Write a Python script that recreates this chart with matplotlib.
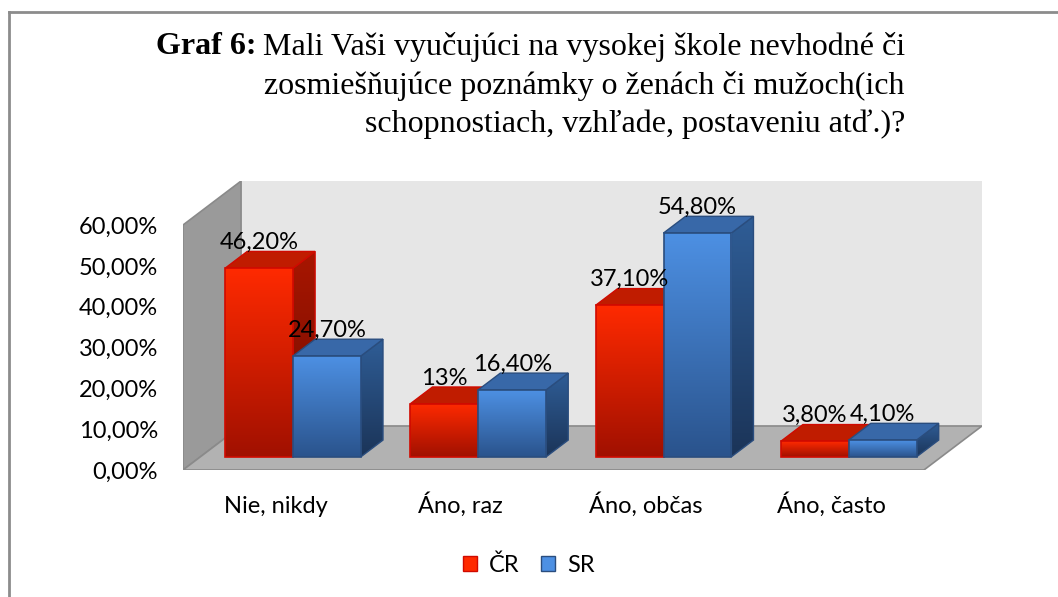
import numpy as np
import matplotlib
matplotlib.use("Agg")
import matplotlib.pyplot as plt
from matplotlib.patches import Polygon, Patch
from matplotlib.colors import LinearSegmentedColormap
from matplotlib.lines import Line2D

# data
categories = ["Nie, nikdy", "Áno, raz", "Áno, občas", "Áno, často"]
cr_values = [46.2, 13.0, 37.1, 3.8]
sr_values = [24.7, 16.4, 54.8, 4.1]
cr_labels = ["46,20%", "13%", "37,10%", "3,80%"]
sr_labels = ["24,70%", "16,40%", "54,80%", "4,10%"]
series_names = ["ČR", "SR"]
yticks = [0, 10, 20, 30, 40, 50, 60]

# fake 3d geometry (depth offsets in data units)
DX, DY = 0.3135, 10.78
Z0, Z1 = 0.3, 0.68
W = 0.3665

tick_font = "Lato"
title_font = "Liberation Serif"
fs = 17

fig = plt.figure(figsize=(10.58, 5.97), dpi=100)
fw, fh = 1058, 597
ax = fig.add_axes([183 / fw, (fh - 470) / fh, (982 - 183) / fw, (470 - 181) / fh])
ax.set_xlim(-0.5, 3.5 + DX)
ax.set_ylim(0, 60 + DY)


def grad_poly(verts, c_top, c_bot, z, clip=None):
    poly = Polygon(verts, closed=True, facecolor="none", edgecolor="none")
    ax.add_patch(poly)
    xs = [v[0] for v in verts]
    ys = [v[1] for v in verts]
    cmap = LinearSegmentedColormap.from_list("g", [c_bot, c_top])
    g = np.linspace(0, 1, 256).reshape(-1, 1)
    im = ax.imshow(g, extent=(min(xs), max(xs), min(ys), max(ys)), origin="lower",
                   cmap=cmap, aspect="auto", zorder=z, interpolation="bilinear")
    im.set_clip_path(clip if clip is not None else poly)
    return im


# walls and floor
left = -0.5
right = 3.5
ax.add_patch(Polygon([(left, 0), (left, 60), (left + DX, 60 + DY), (left + DX, DY)],
                     facecolor="#9a9a9a", edgecolor="#8a8a8a", lw=1.2, zorder=1))
ax.add_patch(Polygon([(left + DX, DY), (left + DX, 60 + DY), (right + DX, 60 + DY), (right + DX, DY)],
                     facecolor="#e6e6e6", edgecolor="none", zorder=0.5))
ax.add_patch(Polygon([(left, 0), (right, 0), (right + DX, DY), (left + DX, DY)],
                     facecolor="#b2b2b2", edgecolor="#8a8a8a", lw=1.2, zorder=1))

styles = [
    # front top, front bottom, side top, side bottom, top face, edge
    ("#ff2a00", "#a01000", "#a81600", "#700c00", "#c01c00", "#d00a00"),
    ("#4d90e3", "#2a538c", "#2f5d96", "#1b3458", "#3868a8", "#2a4d7e"),
]

base = Z0 * DY
ddx = (Z1 - Z0) * DX
ddy = (Z1 - Z0) * DY
zo = 2
for i in range(len(categories)):
    gx = i + Z0 * DX
    for s, (vals, labs) in enumerate([(cr_values, cr_labels), (sr_values, sr_labels)]):
        ft, fb, st, sb, tf, ec = styles[s]
        v = vals[i]
        l = gx - W if s == 0 else gx
        r = l + W
        t = base + v
        # side face
        grad_poly([(r, base), (r + ddx, base + ddy), (r + ddx, t + ddy), (r, t)], st, sb, zo)
        ax.add_patch(Polygon([(r, base), (r + ddx, base + ddy), (r + ddx, t + ddy), (r, t)],
                             facecolor="none", edgecolor=ec, lw=1, zorder=zo + 0.1))
        # top face
        ax.add_patch(Polygon([(l, t), (r, t), (r + ddx, t + ddy), (l + ddx, t + ddy)],
                             facecolor=tf, edgecolor=ec, lw=1, zorder=zo + 0.2))
        # front face
        bar = ax.bar(l, v, width=W, bottom=base, align="edge", facecolor="none",
                     edgecolor=ec, lw=1.2, zorder=zo + 0.4)[0]
        grad_poly([(l, base), (r, base), (r, t), (l, t)], ft, fb, zo + 0.3, clip=bar)
        ax.text(l + W / 2, v + 9.5, labs[i], ha="center", va="center",
                fontsize=fs, family=tick_font, color="black", zorder=10)
        zo += 1

for sp in ax.spines.values():
    sp.set_visible(False)
ax.set_yticks(yticks)
ax.set_yticklabels(["%d,00%%" % t for t in yticks], fontsize=fs, family=tick_font)
ax.set_xticks(range(len(categories)))
ax.set_xticklabels(categories, fontsize=fs, family=tick_font)
ax.tick_params(axis="y", length=0, pad=18)
ax.tick_params(axis="x", length=0, pad=31)
for lbl in ax.get_xticklabels():
    lbl.set_va("baseline")

# legend
handles = [Patch(facecolor=styles[k][0], edgecolor=styles[k][5], label=series_names[k]) for k in range(2)]
fig.legend(handles=handles, loc="center", bbox_to_anchor=(0.5, 1 - 565 / fh), ncol=2,
           frameon=False, prop={"family": tick_font, "size": fs},
           handlelength=0.6, handleheight=0.6, handletextpad=0.5, columnspacing=0.9)

# title
lines = ["Mali Vaši vyučujúci na vysokej škole nevhodné či",
         "zosmiešňujúce poznámky o ženách či mužoch(ich",
         "schopnostiach, vzhľade, postaveniu atď.)?"]
ys = [47, 86, 124]
tx = 905 / fw
first = None
for k, (ln, y) in enumerate(zip(lines, ys)):
    t = fig.text(tx, 1 - y / fh, ln, ha="right", va="center", fontsize=23, family=title_font)
    if k == 0:
        first = t
fig.canvas.draw()
bb = first.get_window_extent(renderer=fig.canvas.get_renderer())
fig.text(bb.x0 / fw - 0.006, 1 - ys[0] / fh, "Graf 6:", ha="right", va="center",
         fontsize=23, family=title_font, fontweight="bold")

# outer frame (top and left)
fig.add_artist(Line2D([8.5 / fw, 1], [1 - 11.5 / fh, 1 - 11.5 / fh], color="#8c8c8c", lw=2,
                      transform=fig.transFigure))
fig.add_artist(Line2D([8.5 / fw, 8.5 / fw], [0, 1 - 11.5 / fh], color="#8c8c8c", lw=2,
                      transform=fig.transFigure))

fig.savefig("out.png", dpi=100)
